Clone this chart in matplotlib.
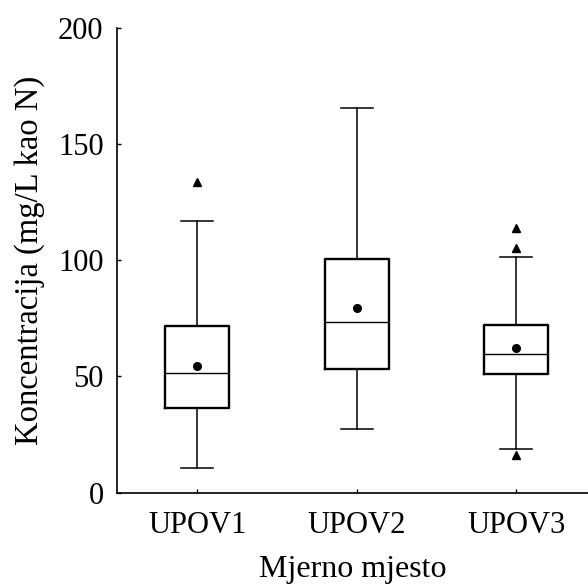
import matplotlib
matplotlib.use("Agg")
import matplotlib.pyplot as plt

plt.rcParams["font.family"] = ["Liberation Serif", "DejaVu Serif"]

sites = ["UPOV1", "UPOV2", "UPOV3"]
whislo = [10.5, 27.3, 18.8]
q1 = [36.6, 53.1, 50.9]
med = [51.5, 73.4, 59.7]
q3 = [71.7, 100.4, 72.1]
whishi = [117.0, 165.5, 101.2]
means = [54.5, 79.3, 62.1]
fliers = [[133.8], [], [113.7, 105.1, 16.2]]

stats = []
for i, name in enumerate(sites):
    stats.append({
        "label": name,
        "whislo": whislo[i],
        "q1": q1[i],
        "med": med[i],
        "q3": q3[i],
        "whishi": whishi[i],
        "mean": means[i],
        "fliers": fliers[i],
    })

fig = plt.figure(figsize=(5.88, 5.88), dpi=100)
ax = fig.add_axes([0.1998, 0.162, 0.8002, 0.791])

ax.bxp(
    stats,
    positions=[1, 2, 3],
    widths=0.4,
    showmeans=True,
    boxprops={"color": "black", "linewidth": 1.7},
    medianprops={"color": "black", "linewidth": 1.0},
    whiskerprops={"color": "black", "linewidth": 1.1},
    capprops={"color": "black", "linewidth": 1.1},
    capwidths=0.2,
    meanprops={"marker": "o", "markerfacecolor": "black", "markeredgecolor": "black", "markersize": 5.5},
    flierprops={"marker": "^", "markerfacecolor": "black", "markeredgecolor": "black", "markersize": 6},
)

ax.set_xlim(0.5, 3.45)
ax.set_ylim(0, 200)
ax.set_yticks([0, 50, 100, 150, 200])
ax.set_xticks([1, 2, 3])
ax.set_xticklabels(sites)
for side in ("top", "right"):
    ax.spines[side].set_visible(False)
for side in ("left", "bottom"):
    ax.spines[side].set_linewidth(1.2)
ax.tick_params(axis="y", direction="in", length=3, width=1.0, pad=10, labelsize=22)
ax.tick_params(axis="x", direction="in", length=3, width=1.0, pad=13, labelsize=22)
ax.set_xlabel("Mjerno mjesto", fontsize=23, labelpad=11)
ax.set_ylabel("Koncentracija (mg/L kao N)", fontsize=23.5, labelpad=9)

fig.savefig("out.png", dpi=100)
